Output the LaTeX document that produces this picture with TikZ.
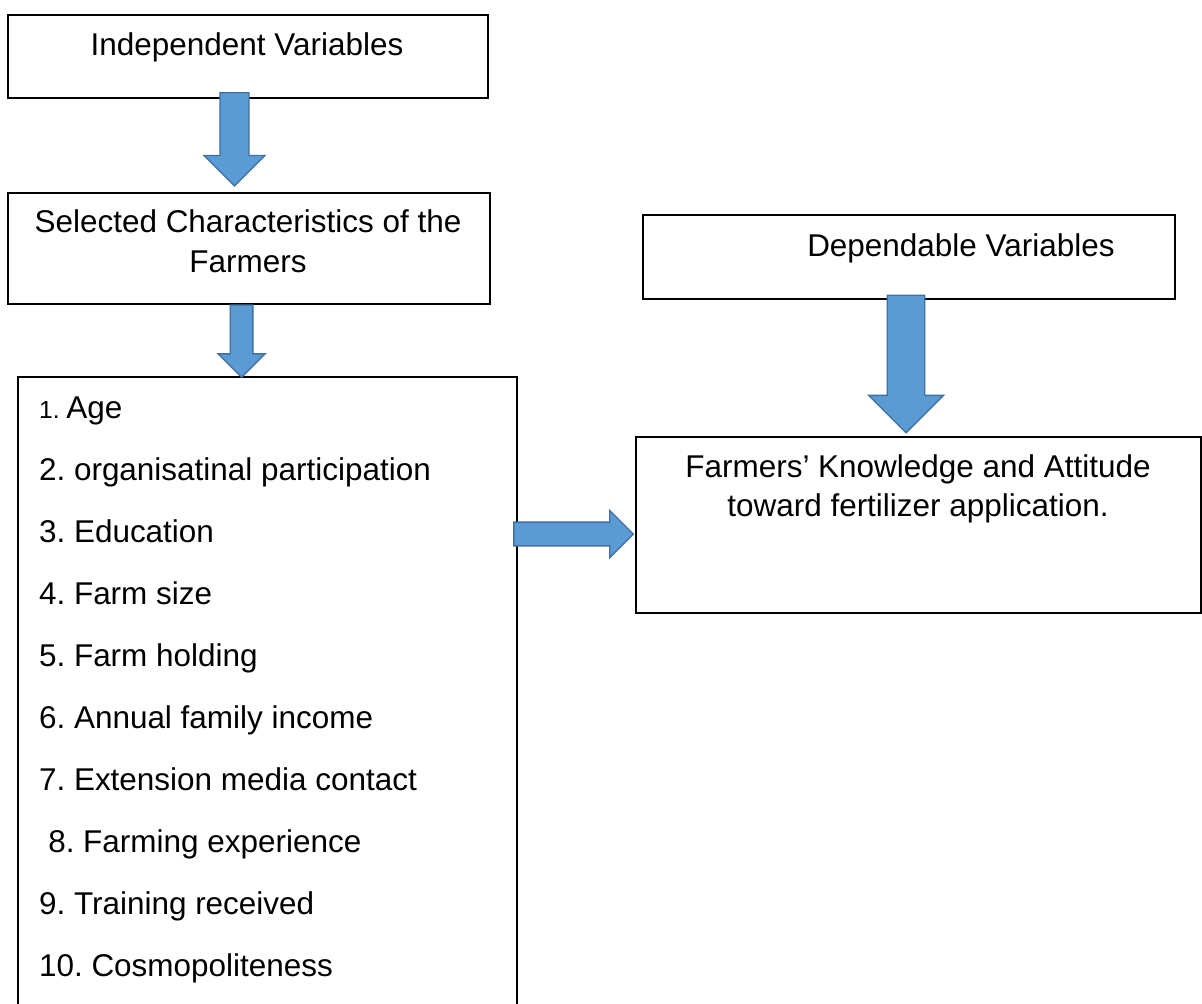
\documentclass[tikz,border=0pt]{standalone}
\usepackage{fontspec}
\setmainfont{Liberation Sans}
\usetikzlibrary{calc}
\definecolor{arrowfill}{HTML}{5B9BD5}
\definecolor{arrowline}{HTML}{41719C}
\newcommand\mainf{\fontsize{23.6}{28}\selectfont}
\newcommand\smallf{\fontsize{18.5}{22}\selectfont}
% vertical block arrow: #1 start (shaft top centre), #2 tip, #3 shaft half width, #4 head half width
\newcommand\vblock[4]{\path[blockarrow] let \p1=(#1), \p2=(#2) in
  (\x2-#3,\y1) -- (\x2-#3,\y2+#4) -- (\x2-#4,\y2+#4) -- (\x2,\y2) --
  (\x2+#4,\y2+#4) -- (\x2+#3,\y2+#4) -- (\x2+#3,\y1) -- cycle;}
% horizontal block arrow pointing right
\newcommand\hblock[4]{\path[blockarrow] let \p1=(#1), \p2=(#2) in
  (\x1,\y2+#3) -- (\x2-#4,\y2+#3) -- (\x2-#4,\y2+#4) -- (\x2,\y2) --
  (\x2-#4,\y2-#4) -- (\x2-#4,\y2-#3) -- (\x1,\y2-#3) -- cycle;}
\frenchspacing
\begin{document}
\frenchspacing
\begin{tikzpicture}[x=0.75pt,y=-0.75pt,
  box/.style={draw=black,line width=1.5pt,rectangle,inner sep=0pt,anchor=north west},
  openbox/.style={rectangle,inner sep=0pt,anchor=north west},
  txt/.style={inner sep=0pt,font=\mainf\frenchspacing,text=black},
  blockarrow/.style={fill=arrowfill,draw=arrowline,line width=1pt,line join=miter}]
\useasboundingbox (0,0) rectangle (1202,1003);
\clip (0,0) rectangle (1202,1003);
\fill[white] (0,0) rectangle (1202,1003);

% boxes
\node[box,minimum width=360pt,minimum height=61.8pt] (b1) at (7.3,14.3) {};
\node[box,minimum width=361.3pt,minimum height=83.5pt] (b2) at (7.3,191.7) {};
\node[openbox,minimum width=373.5pt,minimum height=474.5pt] (b3) at (18,377.3) {};
\draw[line width=1.5pt] (b3.south west) -- (b3.north west) -- (b3.north east) -- (b3.south east);
\node[box,minimum width=399.2pt,minimum height=63.2pt] (b4) at (641.7,214) {};
\node[box,minimum width=424.2pt,minimum height=132.6pt] (b5) at (634.5,435.5) {};

% texts
\node[txt,anchor=base] (t1) at (247,55) {Independent Variables};
\node[txt,anchor=base] (t2a) at (248,232) {Selected Characteristics of the};
\node[txt,anchor=base] (t2b) at (248,272) {Farmers};
\node[txt,anchor=base west] (t4) at (807,256.7) {Dependable Variables};
\node[txt,anchor=base] (t5a) at (918,477) {Farmers’ Knowledge and Attitude};
\node[txt,anchor=base] (t5b) at (918,516.7) {toward fertilizer application.};

\node[txt,anchor=base west] (l1) at (38.8,418) {{\smallf 1. }Age};
\node[txt,anchor=base west] (l2) at (38.8,480) {2. organisatinal participation};
\node[txt,anchor=base west] (l3) at (38.8,542) {3. Education};
\node[txt,anchor=base west] (l4) at (38.8,604) {4. Farm size};
\node[txt,anchor=base west] (l5) at (38.8,666) {5. Farm holding};
\node[txt,anchor=base west] (l6) at (38.8,728) {6. Annual family income};
\node[txt,anchor=base west] (l7) at (38.8,790) {7. Extension media contact};
\node[txt,anchor=base west] (l8) at (48,852) {8. Farming experience};
\node[txt,anchor=base west] (l9) at (38.8,914) {9. Training received};
\node[txt,anchor=base west] (l10) at (38.8,976) {10. Cosmopoliteness};

% arrow end points tied to the boxes
\coordinate (a1s) at ($(b1.south west)+(227.2,-6)$);
\coordinate (a1t) at ($(b2.north west)+(227.2,-5.7)$);
\coordinate (a2s) at ($(b2.south west)+(234.2,0)$);
\coordinate (a2t) at ($(b3.north west)+(223.5,0)$);
\coordinate (a3s) at ($(b4.south west)+(264.3,-5)$);
\coordinate (a3t) at ($(b5.north west)+(271.5,-2.7)$);
\coordinate (a4s) at ($(b3.north east)+(-2.7,156.7)$);
\coordinate (a4t) at ($(b5.north west)+(-1.2,98.5)$);

\vblock{a1s}{a1t}{10.9pt}{22.9pt}
\vblock{a2s}{a2t}{8.5pt}{17.6pt}
\vblock{a3s}{a3t}{14.1pt}{28.1pt}
\hblock{a4s}{a4t}{8.9pt}{17.7pt}
\end{tikzpicture}
\end{document}
